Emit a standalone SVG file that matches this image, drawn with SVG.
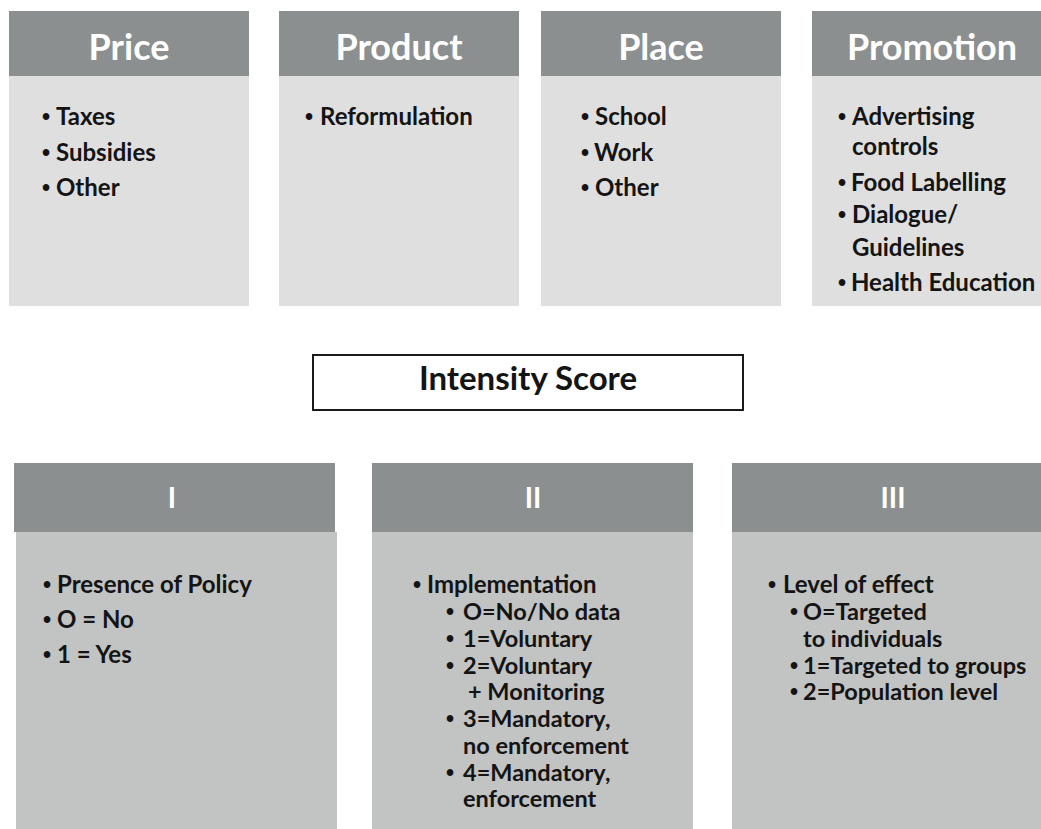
<svg xmlns="http://www.w3.org/2000/svg" width="1041" height="829" viewBox="0 0 1041 829">
<style>
text{font-family:Lato,"Open Sans","Liberation Sans",sans-serif;font-weight:bold;fill:#141414}
.bu{font-family:"Liberation Sans",Arial,sans-serif;font-size:23px;font-weight:bold}
.hd{fill:#8c8f90}
.b1{fill:#dfdfdf}
.b2{fill:#c2c3c3}
.ht{fill:#ffffff;font-size:36px;text-anchor:middle}
.ht2{fill:#ffffff;font-size:28px;text-anchor:middle}
.it{font-size:24px}
.st{font-size:23.5px}
.is{font-size:33px;text-anchor:middle}
</style>
<rect width="1041" height="829" fill="#ffffff"/>
<g id="price">
<rect class="hd" x="9" y="11" width="240" height="65"/>
<rect class="b1" x="9" y="76" width="240" height="230"/>
<text class="ht" x="129" y="60">Price</text>
<text class="it" x="56" y="125"><tspan class="bu" x="42">•</tspan><tspan x="56">Taxes</tspan></text>
<text class="it" x="56" y="161"><tspan class="bu" x="42">•</tspan><tspan x="56">Subsidies</tspan></text>
<text class="it" x="56" y="196"><tspan class="bu" x="42">•</tspan><tspan x="56">Other</tspan></text>
</g>
<g id="product">
<rect class="hd" x="279" y="11" width="240" height="65"/>
<rect class="b1" x="279" y="76" width="240" height="230"/>
<text class="ht" x="399" y="60">Product</text>
<text class="it" x="320" y="125"><tspan class="bu" x="305">•</tspan><tspan x="320">Reformulation</tspan></text>
</g>
<g id="place">
<rect class="hd" x="541" y="11" width="240" height="65"/>
<rect class="b1" x="541" y="76" width="240" height="230"/>
<text class="ht" x="661" y="60">Place</text>
<text class="it" x="595" y="125"><tspan class="bu" x="581">•</tspan><tspan x="595">School</tspan></text>
<text class="it" x="594" y="161"><tspan class="bu" x="581">•</tspan><tspan x="594">Work</tspan></text>
<text class="it" x="595" y="196"><tspan class="bu" x="581">•</tspan><tspan x="595">Other</tspan></text>
</g>
<g id="promotion">
<rect class="hd" x="812" y="11" width="229" height="65"/>
<rect class="b1" x="812" y="76" width="229" height="230"/>
<text class="ht" x="932" y="60">Promotion</text>
<text class="it" x="852" y="125"><tspan class="bu" x="838">•</tspan><tspan x="852">Advertising</tspan></text>
<text class="it" x="852" y="155">controls</text>
<text class="it" x="851" y="191"><tspan class="bu" x="838">•</tspan><tspan x="851">Food Labelling</tspan></text>
<text class="it" x="852" y="223"><tspan class="bu" x="838">•</tspan><tspan x="852">Dialogue/</tspan></text>
<text class="it" x="852" y="256">Guidelines</text>
<text class="it" x="851" y="291"><tspan class="bu" x="838">•</tspan><tspan x="851">Health Education</tspan></text>
</g>
<g id="intensity">
<rect x="313" y="355" width="430" height="55" fill="#ffffff" stroke="#1a1a1a" stroke-width="2"/>
<text class="is" x="528" y="390">Intensity Score</text>
</g>
<g id="level1">
<rect class="hd" x="14" y="463" width="321" height="69"/>
<rect class="b2" x="16" y="532" width="321" height="297"/>
<text class="ht2" x="172" y="508">I</text>
<text class="it" x="57" y="593"><tspan class="bu" x="43">•</tspan><tspan x="57">Presence of Policy</tspan></text>
<text class="it" x="57" y="628"><tspan class="bu" x="43">•</tspan><tspan x="57">O = No</tspan></text>
<text class="it" x="57" y="663"><tspan class="bu" x="43">•</tspan><tspan x="57">1 = Yes</tspan></text>
</g>
<g id="level2">
<rect class="hd" x="372" y="463" width="321" height="69"/>
<rect class="b2" x="372" y="532" width="321" height="297"/>
<text class="ht2" x="533" y="508">II</text>
<text class="it" x="427" y="593"><tspan class="bu" x="413">•</tspan><tspan x="427">Implementation</tspan></text>
<text class="st" x="463" y="620"><tspan class="bu" x="446">•</tspan><tspan x="463">O=No/No data</tspan></text>
<text class="st" x="463" y="647"><tspan class="bu" x="446">•</tspan><tspan x="463">1=Voluntary</tspan></text>
<text class="st" x="463" y="674"><tspan class="bu" x="446">•</tspan><tspan x="463">2=Voluntary</tspan></text>
<text class="st" x="468" y="700">+ Monitoring</text>
<text class="st" x="463" y="727"><tspan class="bu" x="446">•</tspan><tspan x="463">3=Mandatory,</tspan></text>
<text class="st" x="463" y="754">no enforcement</text>
<text class="st" x="463" y="781"><tspan class="bu" x="446">•</tspan><tspan x="463">4=Mandatory,</tspan></text>
<text class="st" x="463" y="807">enforcement</text>
</g>
<g id="level3">
<rect class="hd" x="732" y="463" width="309" height="69"/>
<rect class="b2" x="732" y="532" width="309" height="297"/>
<text class="ht2" x="893" y="508">III</text>
<text class="it" x="783" y="593"><tspan class="bu" x="768">•</tspan><tspan x="783">Level of effect</tspan></text>
<text class="st" x="803" y="620"><tspan class="bu" x="790">•</tspan><tspan x="803">O=Targeted</tspan></text>
<text class="st" x="803" y="647">to individuals</text>
<text class="st" x="803" y="674"><tspan class="bu" x="790">•</tspan><tspan x="803">1=Targeted to groups</tspan></text>
<text class="st" x="803" y="700"><tspan class="bu" x="790">•</tspan><tspan x="803">2=Population level</tspan></text>
</g>
<g id="connectors"></g>
</svg>
